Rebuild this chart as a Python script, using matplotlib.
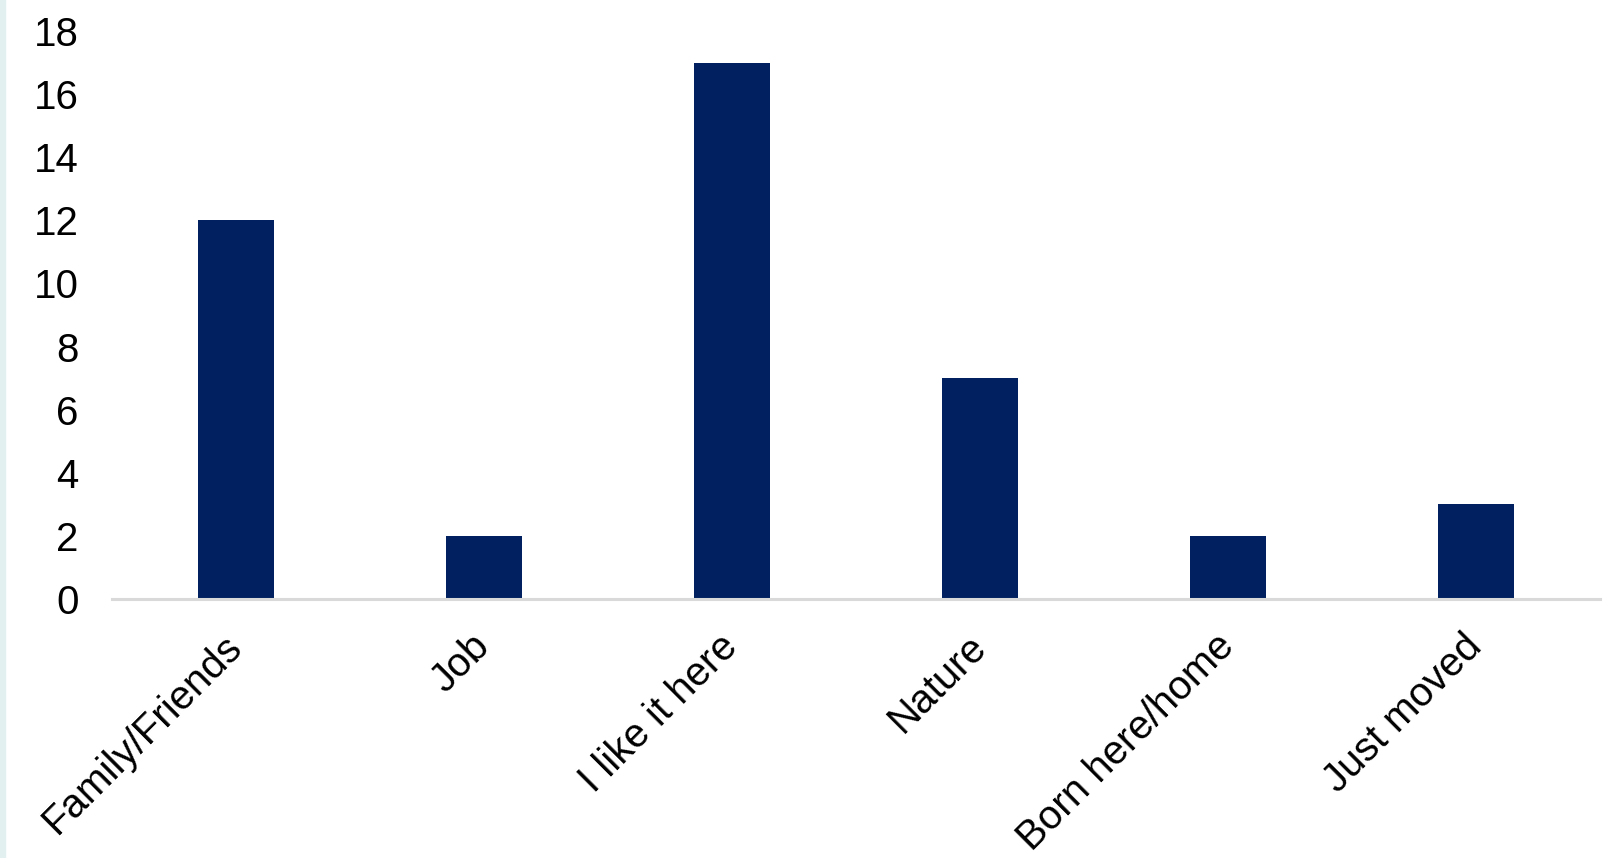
import matplotlib
matplotlib.use("Agg")
import matplotlib.pyplot as plt
from matplotlib.patches import Rectangle

plt.rcParams["font.family"] = ["Liberation Sans", "DejaVu Sans"]

# ── Data ──────────────────────────────────────────────────────────────────────
categories = ["Family/Friends", "Job", "I like it here", "Nature",
              "Born here/home", "Just moved"]
counts = [12, 2, 17, 7, 2, 3]
y_ticks = [0, 2, 4, 6, 8, 10, 12, 14, 16, 18]

BAR_COLOR = "#002060"
AXIS_COLOR = "#d9d9d9"

fig = plt.figure(figsize=(16.14, 8.58), dpi=100)
ax = fig.add_axes([112 / 1614, 1 - 599 / 858, (1600 - 112) / 1614, (599 - 31) / 858])

x = range(len(categories))
ax.bar(x, counts, width=0.31, color=BAR_COLOR, zorder=2)

ax.set_xlim(-0.5, len(categories) - 0.5)
ax.set_ylim(0, 18)
ax.set_yticks(y_ticks)
ax.set_yticklabels([str(v) for v in y_ticks], fontsize=29, color="#000000")
ax.set_xticks(list(x))
ax.set_xticklabels(categories, fontsize=29, rotation=45, ha="right",
                   va="center", rotation_mode="anchor")

ax.tick_params(axis="y", length=0, pad=24)
ax.tick_params(axis="x", length=0, pad=30)

for side in ("top", "right", "left"):
    ax.spines[side].set_visible(False)
ax.spines["bottom"].set_color(AXIS_COLOR)
ax.spines["bottom"].set_linewidth(2.2)
ax.spines["bottom"].set_zorder(3)

# light teal strip on the left edge
fig.patches.append(Rectangle((0, 0), 5 / 1614, 1, transform=fig.transFigure,
                             color="#e3f0f0", zorder=0))

fig.savefig("out.png", dpi=100)
